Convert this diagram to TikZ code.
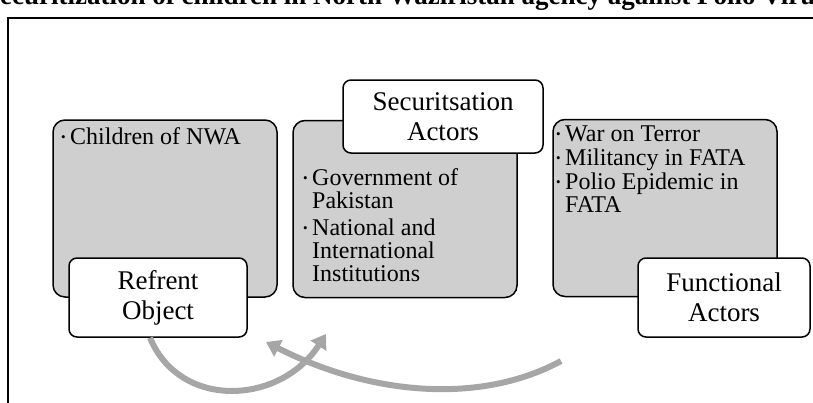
\documentclass[tikz,border=0pt]{standalone}
\usepackage{fontspec}
\setmainfont{Liberation Serif}
\usetikzlibrary{arrows.meta}

\definecolor{boxgray}{HTML}{CFCFCF}
\definecolor{arrowgray}{HTML}{A6A6A6}

\newcommand{\itm}{\makebox[9pt][l]{\raisebox{3pt}{\fontsize{13}{13}\selectfont\textbullet}}}
\newcommand{\ind}{\hspace*{9pt}}

\tikzset{
    panel/.style={draw=black, line width=1.5pt, fill=boxgray, rounded corners=12pt,
        minimum width=224pt, minimum height=177pt, inner sep=0pt},
    tag/.style={draw=black, line width=1.5pt, fill=white, rounded corners=8pt,
        inner sep=0pt, align=center, font=\fontsize{27}{30}\selectfont},
    items/.style={anchor=north west, inner sep=0pt, align=left,
        font=\fontsize{24}{23}\selectfont},
    flow/.style={arrowgray, line width=6pt, -{Triangle[length=14pt,width=18pt]}}
}

\begin{document}
\begin{tikzpicture}[x=1pt, y=-1pt]
    \useasboundingbox (0,0) rectangle (813,402);
    \clip (0,0) rectangle (813,402);

    \node [anchor=base west, inner sep=0pt, font=\bfseries\fontsize{27}{30}\selectfont]
        (heading) at (0,4)
        {\llap{S}ecuritization of children in North Waziristan agency against Polio Viru\rlap{s}};

    \draw [line width=2pt] (8,404) -- (8,18) -- (815,18);     % frame

    \node [panel] (refbox) at (165,208.5) {};                  % gray panels
    \node [panel] (secbox) at (405,209) {};
    \node [panel] (funbox) at (665,208) {};

    \node [items] (reflist) at (61,127.5)
        {\itm Children of NWA};
    \node [items] (seclist) at (303,168.5)
        {\itm Government of\\ \ind Pakistan\\[4pt]
         \itm National and\\ \ind International\\ \ind Institutions};
    \node [items] (funlist) at (556,126)
        {\itm War on Terror\\[1pt] \itm Militancy in FATA\\[1pt]
         \itm Polio Epidemic in\\ \ind FATA};

    \node [tag, minimum width=178pt, minimum height=79pt] (ro) at (158,297.5)
        {Refrent\\Object};
    \node [tag, minimum width=200pt, minimum height=73pt] (sa) at (443,116.5)
        {Securitsation\\Actors};
    \node [tag, minimum width=172pt, minimum height=79pt] (fa) at (724,297.5)
        {Functional\\Actors};

    \coordinate (tip1) at (326,334);                            % arrow ends
    \coordinate (tail2) at (561,361);
    \coordinate (tip2) at (266,342);

    \draw [flow] ([xshift=-8pt]ro.south) .. controls (180,410) and (280,405) .. (tip1);
    \draw [flow] (tail2) .. controls (480,405) and (370,395) .. (tip2);
\end{tikzpicture}
\end{document}
